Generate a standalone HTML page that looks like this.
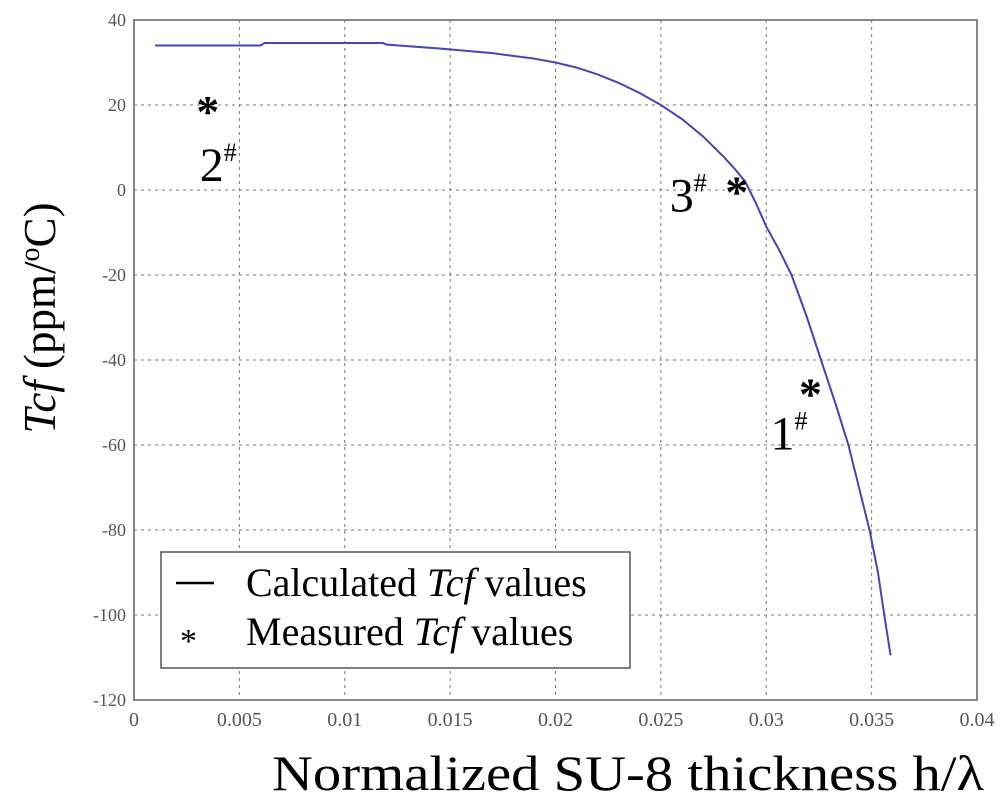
<!DOCTYPE html>
<html><head><meta charset="utf-8"><style>
body{margin:0;background:#fff;}
svg{display:block;font-family:"Liberation Serif",serif;}
</style></head><body>
<svg id="c" width="1000" height="804"></svg>
<script>
const xTicks=[0,0.005,0.01,0.015,0.02,0.025,0.03,0.035,0.04];
const xTickLabels=["0","0.005","0.01","0.015","0.02","0.025","0.03","0.035","0.04"];
const yTicks=[40,20,0,-20,-40,-60,-80,-100,-120];
const yTickLabels=["40","20","0","-20","-40","-60","-80","-100","-120"];
const calcX=[0.001,0.006,0.0062,0.0118,0.012,0.0145,0.017,0.019,0.02,0.021,0.022,0.023,0.024,0.025,0.026,0.027,0.028,0.0285,0.029,0.0295,0.03,0.0306,0.0312,0.0319,0.0326,0.0333,0.0339,0.0344,0.0349,0.0353,0.0356,0.0359];
const calcY=[34,34,34.6,34.6,34.2,33.3,32.2,30.9,30,28.8,27.2,25.2,22.8,20,16.7,12.6,7.7,5,2,-3,-8.6,-14,-20,-29.5,-40,-50.5,-60,-70,-80,-90,-100,-109.5];
const measX=[0.0035,0.0286,0.0321];
const measY=[21,2,-45.5];
const measLabels=["2","3","1"];
const L=134,R=977,T=20,B=700;
const sx=v=>L+(v-0)/(0.04)*(R-L);
const sy=v=>T+(40-v)/160*(B-T);
const NS="http://www.w3.org/2000/svg";
const svg=document.getElementById('c');
function mk(t,a,p){const e=document.createElementNS(NS,t);for(const k in a)e.setAttribute(k,a[k]);(p||svg).appendChild(e);return e;}
let e;
e=mk('rect',{x:L,y:T,width:R-L,height:B-T,fill:'#fff',stroke:'#888','stroke-width':2});


xTicks.forEach((t,i)=>{
 const x=sx(t);
 if(i>0&&i<xTicks.length-1){e=mk('line',{x1:x,x2:x,y1:T,y2:B,stroke:'#777','stroke-dasharray':'3,4','stroke-width':1});
 
 }
 e=mk('text',{x:x,y:B+26,'text-anchor':'middle','font-size':20,fill:'#555'});e.textContent=xTickLabels[i];
 
 
});
yTicks.forEach((t,i)=>{
 const y=sy(t);
 if(i>0&&i<yTicks.length-1){e=mk('line',{x1:L,x2:R,y1:y,y2:y,stroke:'#777','stroke-dasharray':'3,4','stroke-width':1});
 
 }
 e=mk('text',{x:L-8,y:y+6,'text-anchor':'end','font-size':18,fill:'#555'});e.textContent=yTickLabels[i];
 
 
});
e=mk('polyline',{points:calcX.map((x,i)=>sx(x)+','+sy(calcY[i])).join(' '),fill:'none',stroke:'#4444bb','stroke-width':2,'stroke-linejoin':'round'});


const lblOff=[[-8,80],[-67,30],[-40,66]];
measX.forEach((x,i)=>{
 e=mk('text',{x:sx(x),y:sy(measY[i])+26,'text-anchor':'middle','font-size':46,'font-weight':'bold'});e.textContent='*';
 
 
 e=mk('text',{x:sx(x)+lblOff[i][0],y:sy(measY[i])+lblOff[i][1],'font-size':48});
 e.textContent=measLabels[i];
 const s=mk('tspan',{'font-size':26,dy:-20},e);s.textContent='#';
 
 
});
const g=mk('g',{});


mk('rect',{x:161,y:552,width:469,height:116,fill:'#fff',stroke:'#555','stroke-width':1.5},g);
mk('line',{x1:176,x2:214,y1:583,y2:583,stroke:'#000','stroke-width':2.5},g);
e=mk('text',{x:246,y:596,'font-size':40},g);e.innerHTML='Calculated <tspan font-style="italic">Tcf</tspan> values';


e=mk('text',{x:180,y:652,'font-size':34},g);e.textContent='*';
e=mk('text',{x:246,y:645,'font-size':40},g);e.innerHTML='Measured <tspan font-style="italic">Tcf</tspan> values';


e=mk('text',{x:628,y:790,'text-anchor':'middle','font-size':50,textLength:712,lengthAdjust:'spacingAndGlyphs'});e.textContent='Normalized SU-8 thickness h/λ';


e=mk('text',{x:0,y:0,'text-anchor':'middle','font-size':45,transform:'translate(55,318) rotate(-90)'});
e.innerHTML='<tspan font-style="italic">Tcf</tspan> (ppm/<tspan font-size="28" dy="-16">o</tspan><tspan dy="16">C)</tspan>';


</script>
</body></html>
